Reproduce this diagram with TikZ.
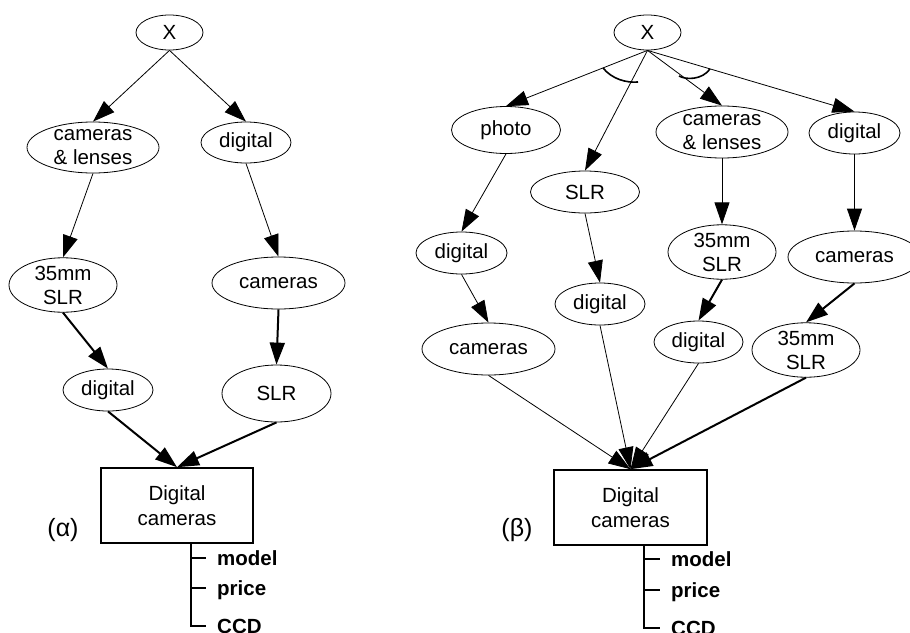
\documentclass[tikz,border=0pt]{standalone}
\usepackage{fontspec}
\setmainfont{Liberation Sans}
\usetikzlibrary{shapes.geometric,arrows.meta}

\tikzset{
  el/.style={draw, ellipse, line width=0.8pt, inner sep=0pt, align=center,
             font=\fontsize{20.5}{25}\selectfont},
  classbox/.style={draw, rectangle, line width=1.6pt, inner sep=0pt, align=center,
             minimum width=152pt, minimum height=75pt,
             font=\fontsize{20.5}{25}\selectfont},
  thin edge/.style={line width=0.8pt, -{Triangle[length=22pt,width=15pt]}},
  thick edge/.style={line width=2pt, -{Triangle[length=22pt,width=15pt]}},
  tree/.style={line width=2pt},
  attr/.style={anchor=base west, inner sep=0pt, font=\fontsize{20.5}{25}\selectfont\bfseries},
  tag/.style={inner sep=0pt, font=\fontsize{25}{28}\selectfont},
  andarc/.style={line width=1.6pt},
}

\newcommand{\elnode}[6]{% name, x, y, rx, ry, text
  \node[el, minimum width=#4*2pt, minimum height=#5*2pt] (#1) at (#2,#3) {#6};}

\begin{document}
\begin{tikzpicture}[x=1pt, y=-1pt]
\useasboundingbox (0,0) rectangle (910,632);
\clip (0,0) rectangle (910,632);

% ---------- (alpha) ----------
\elnode{aX}{169.5}{32.5}{33.5}{17.5}{X}
\elnode{aCL}{93}{147.5}{66}{25.5}{cameras\\[-1pt]\& lenses}
\elnode{aDig}{246}{142.5}{45}{20.5}{digital}
\elnode{aMM}{63}{285}{54}{27}{35mm\\[-1pt]SLR}
\elnode{aCam}{278.5}{283}{66.5}{26}{cameras}
\elnode{aDig2}{108}{390}{45}{21}{digital}
\elnode{aSLR}{276.5}{393.5}{54.5}{28.5}{SLR}
\node[classbox] (aBox) at (177,505.5) {Digital\\cameras};
\node[tag] (aTag) at (63,530) {(α)};

\draw[thin edge] (aX.south) -- (aCL.north);
\draw[thin edge] (aX.south) -- (aDig.north);
\draw[thin edge] (aCL.south) -- (aMM.north);
\draw[thin edge] (aDig.south) -- (aCam.north);
\draw[thick edge] (aMM.south) -- (aDig2.north);
\draw[thick edge] (aCam.south) -- (aSLR.north);
\draw[thick edge] (aDig2.south) -- (aBox.north);
\draw[thick edge] (aSLR.south) -- (aBox.north);

\coordinate (aT0) at (191,543);
\coordinate (aT1) at (191,558);
\coordinate (aT2) at (191,588);
\coordinate (aT3) at (191,626);
\draw[tree] (aT0) -- (aT3) -- ++(15,0);
\draw[tree] (aT1) -- ++(15,0);
\draw[tree] (aT2) -- ++(15,0);
\node[attr] (aModel) at (217,565) {model};
\node[attr] (aPrice) at (217,595) {price};
\node[attr] (aCCD) at (217,633) {CCD};

% ---------- (beta) ----------
\elnode{bX}{647.5}{32.5}{33.5}{17.5}{X}
\elnode{bPhoto}{506}{130}{54.5}{23.5}{photo}
\elnode{bSLR}{585}{192}{54.5}{21}{SLR}
\elnode{bCL}{722}{132}{66}{26}{cameras\\[-1pt]\& lenses}
\elnode{bDig}{854.5}{133}{45.5}{21}{digital}
\elnode{bDigA}{461.5}{253}{45.5}{21}{digital}
\elnode{bDigB}{600}{304}{45}{21}{digital}
\elnode{bMMA}{722}{252}{54}{27}{35mm\\[-1pt]SLR}
\elnode{bCamD}{854.5}{257}{66.5}{26}{cameras}
\elnode{bCamA}{488.5}{349}{66.5}{26}{cameras}
\elnode{bDigC}{698.5}{342}{44.5}{21}{digital}
\elnode{bMMB}{806}{350}{54}{27}{35mm\\[-1pt]SLR}
\node[classbox, minimum width=153pt] (bBox) at (630.5,507.5) {Digital\\cameras};
\node[tag] (bTag) at (517,530) {(β)};

\draw[thin edge] (bX.south) -- (bPhoto.north);
\draw[thin edge] (bX.south) -- (bSLR.north);
\draw[thin edge] (bX.south) -- (bCL.north);
\draw[thin edge] (bX.south) -- (bDig.north);
\draw[thin edge] (bPhoto.south) -- (bDigA.north);
\draw[thin edge] (bDigA.south) -- (bCamA.north);
\draw[thin edge] (bSLR.south) -- (bDigB.north);
\draw[thin edge] (bCL.south) -- (bMMA.north);
\draw[thick edge] (bMMA.south) -- (bDigC.north);
\draw[thin edge] (bDig.south) -- (bCamD.north);
\draw[thick edge] (bCamD.south) -- (bMMB.north);
\draw[thin edge] (bCamA.south) -- (bBox.north);
\draw[thin edge] (bDigB.south) -- (bBox.north);
\draw[thin edge] (bDigC.south) -- (bBox.north);
\draw[thick edge] (bMMB.south) -- (bBox.north);

% AND arcs across the edges leaving X
\draw[andarc] (603,68) .. controls (612,79) and (626,83) .. (638,82);
\draw[andarc] (679,76) .. controls (686,80) and (702,80) .. (710,69);

\coordinate (bT0) at (644,545);
\coordinate (bT1) at (644,559);
\coordinate (bT2) at (644,590);
\coordinate (bT3) at (644,628);
\draw[tree] (bT0) -- (bT3) -- ++(16,0);
\draw[tree] (bT1) -- ++(16,0);
\draw[tree] (bT2) -- ++(16,0);
\node[attr] (bModel) at (671,566) {model};
\node[attr] (bPrice) at (671,597) {price};
\node[attr] (bCCD) at (671,635) {CCD};
\end{tikzpicture}
\end{document}
